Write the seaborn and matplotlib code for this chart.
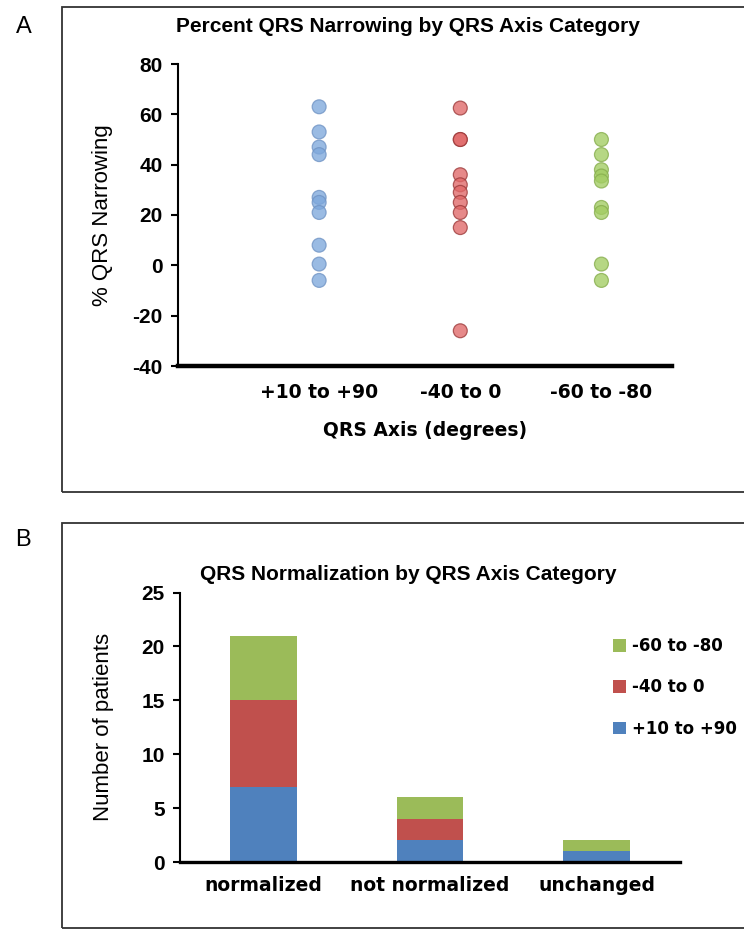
import pandas as pd
import seaborn as sns
import matplotlib.pyplot as plt
from matplotlib.patches import Rectangle

sns.set_style("white")
plt.rcParams['axes.unicode_minus'] = False
plt.rcParams['font.family'] = ['Liberation Sans', 'DejaVu Sans']
for key in ['text.color', 'axes.labelcolor', 'xtick.color', 'ytick.color']:
    plt.rcParams[key] = 'black'

# panel A data
axis_groups = ['+10 to +90', '-40 to 0', '-60 to -80']
narrowing_pos10_90 = [63, 53, 47, 44, 27, 25, 21, 8, 0.5, -6]
narrowing_neg40_0 = [62.5, 50, 50, 36, 32, 29, 25, 21, 15, -26]
narrowing_neg60_80 = [50, 44, 38, 35.5, 33.5, 23, 21, 0.5, -6]

# panel B data
outcomes = ['normalized', 'not normalized', 'unchanged']
count_pos10_90 = [7, 2, 1]
count_neg40_0 = [8, 2, 0]
count_neg60_80 = [6, 2, 1]

dot_colors = {'+10 to +90': '#7ea8dc', '-40 to 0': '#e06868', '-60 to -80': '#a2cc62'}
dot_edges = {'+10 to +90': '#6f93c4', '-40 to 0': '#9c3a3a', '-60 to -80': '#86ad4c'}
bar_colors = {'+10 to +90': '#4f81bd', '-40 to 0': '#c0504d', '-60 to -80': '#9bbb59'}

W, H = 744, 931
fig = plt.figure(figsize=(W / 100, H / 100), dpi=100)

def fx(px):
    return px / W

def fy(py):
    return 1 - py / H

# frames round the two panels
fig.patches.append(Rectangle((fx(62), fy(492)), fx(700), fy(6.5) - fy(492), transform=fig.transFigure,
                             fill=False, edgecolor='#333333', linewidth=1.3))
fig.patches.append(Rectangle((fx(62), fy(928)), fx(700), fy(523) - fy(928), transform=fig.transFigure,
                             fill=False, edgecolor='#333333', linewidth=1.3))
fig.text(fx(24), fy(27), 'A', fontsize=17, ha='center', va='center')
fig.text(fx(23), fy(540), 'B', fontsize=17, ha='center', va='center')

# ---- panel A ----
df_a = pd.DataFrame({
    'group': [axis_groups[0]] * len(narrowing_pos10_90) + [axis_groups[1]] * len(narrowing_neg40_0)
             + [axis_groups[2]] * len(narrowing_neg60_80),
    'value': narrowing_pos10_90 + narrowing_neg40_0 + narrowing_neg60_80,
})

ax1 = fig.add_axes([fx(178), fy(366), fx(672) - fx(178), fy(64) - fy(366)])
sns.stripplot(data=df_a, x='group', y='value', hue='group', order=axis_groups, palette=dot_colors,
              jitter=False, size=10, alpha=0.78, linewidth=0.9, edgecolor='gray', legend=False, ax=ax1)
for coll, grp in zip(ax1.collections, axis_groups):
    coll.set_edgecolor(dot_edges[grp])
ax1.set_xlim(-1.0, 2.5)
ax1.set_ylim(-40, 80)
ax1.set_yticks(range(-40, 81, 20))
sns.despine(ax=ax1)
ax1.spines['left'].set_linewidth(1.5)
ax1.spines['bottom'].set_linewidth(3.2)
ax1.spines['left'].set_color('black')
ax1.spines['bottom'].set_color('black')
ax1.tick_params(axis='y', direction='out', length=5, width=1.5, left=True, pad=6)
ax1.tick_params(axis='x', length=0, pad=12)
for t in ax1.get_yticklabels():
    t.set_fontsize(15)
    t.set_fontweight('bold')
for t in ax1.get_xticklabels():
    t.set_fontsize(13.5)
    t.set_fontweight('bold')
    t.set_family('DejaVu Sans')
ax1.set_xlabel('QRS Axis (degrees)', fontsize=13.5, fontweight='bold', family='DejaVu Sans', labelpad=14)
ax1.set_ylabel('% QRS Narrowing', fontsize=16, labelpad=14)
fig.text(fx(408), fy(27), 'Percent QRS Narrowing by QRS Axis Category', fontsize=15,
         fontweight='bold', ha='center', va='center')

# ---- panel B (stacked by drawing cumulative totals back to front) ----
stack_red = [b + r for b, r in zip(count_pos10_90, count_neg40_0)]
stack_green = [s + g for s, g in zip(stack_red, count_neg60_80)]

ax2 = fig.add_axes([fx(180), fy(862), fx(680) - fx(180), fy(592.5) - fy(862)])
sns.barplot(x=outcomes, y=stack_green, color=bar_colors['-60 to -80'], width=0.4, saturation=1,
            linewidth=0, label='-60 to -80', ax=ax2)
sns.barplot(x=outcomes, y=stack_red, color=bar_colors['-40 to 0'], width=0.4, saturation=1,
            linewidth=0, label='-40 to 0', ax=ax2)
sns.barplot(x=outcomes, y=count_pos10_90, color=bar_colors['+10 to +90'], width=0.4, saturation=1,
            linewidth=0, label='+10 to +90', ax=ax2)
ax2.set_xlim(-0.5, 2.5)
ax2.set_ylim(0, 25)
ax2.set_yticks(range(0, 26, 5))
sns.despine(ax=ax2)
ax2.spines['left'].set_linewidth(1.5)
ax2.spines['bottom'].set_linewidth(2.4)
ax2.spines['left'].set_color('black')
ax2.spines['bottom'].set_color('black')
ax2.tick_params(axis='y', direction='out', length=5, width=1.5, left=True, pad=6)
ax2.tick_params(axis='x', length=0, pad=10)
for t in ax2.get_yticklabels():
    t.set_fontsize(15)
    t.set_fontweight('bold')
for t in ax2.get_xticklabels():
    t.set_fontsize(13.5)
    t.set_fontweight('bold')
    t.set_family('DejaVu Sans')
ax2.set_xlabel('')
ax2.set_ylabel('Number of patients', fontsize=16, labelpad=20)
ax2.legend(loc='upper left', bbox_to_anchor=(fx(613), fy(637)), bbox_transform=fig.transFigure,
           frameon=False, prop={'family': 'DejaVu Sans', 'weight': 'bold', 'size': 12},
           handlelength=0.8, handleheight=0.8, handletextpad=0.35, labelspacing=1.4,
           borderpad=0, borderaxespad=0)
fig.text(fx(408), fy(575), 'QRS Normalization by QRS Axis Category', fontsize=15,
         fontweight='bold', ha='center', va='center')

fig.savefig('out.png', dpi=100)
